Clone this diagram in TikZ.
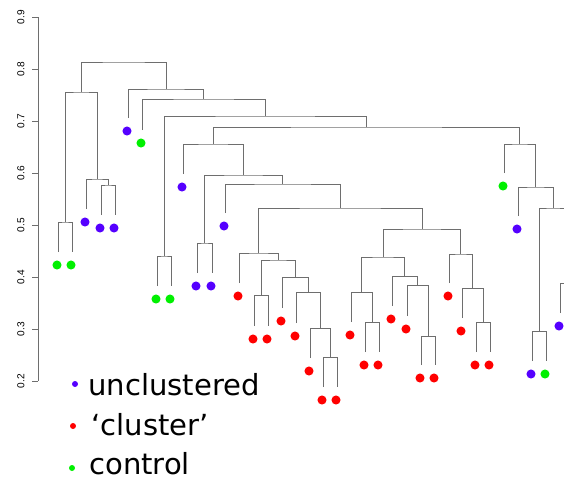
\documentclass[tikz,border=0pt]{standalone}
\usepackage{fontspec}
\setmainfont{DejaVu Sans}
\newfontfamily\axisfont{Liberation Sans}
\definecolor{ublue}{RGB}{85,0,255}
\definecolor{cred}{RGB}{255,0,0}
\definecolor{cgreen}{RGB}{0,240,0}
\definecolor{linegray}{RGB}{110,110,110}
\begin{document}
\begin{tikzpicture}[x=0.75pt,y=-0.75pt,
  branch/.style={draw=linegray,line width=0.75pt},
  leafdot/.style={circle,inner sep=0pt,minimum size=6.8pt},
  legdot/.style={circle,inner sep=0pt,minimum size=4.5pt},
  legtext/.style={anchor=base west,inner sep=0pt,font=\fontsize{21.8}{26}\selectfont},
  ticklab/.style={rotate=90,inner sep=0pt,font=\axisfont\fontsize{7.6}{8}\selectfont}]
\useasboundingbox (0,0) rectangle (564,480);
\clip (0,0) rectangle (564,480);
% axis
\coordinate (ax0) at (38,17);
\coordinate (ax1) at (38,381);
\draw[branch] (ax0) -- (ax1);
\foreach \v/\y in {0.9/17,0.8/69,0.7/121,0.6/173,0.5/225,0.4/277,0.3/329,0.2/381}{
  \coordinate (t\y) at (32,\y);
  \draw[branch] (t\y) -- (38,\y);
  \node[ticklab] (lab\y) at (21,\y) {\v};
}
% leaves
\foreach \n/\x/\y/\c in {L1/58/252/cgreen,L2/72/252/cgreen,L3/86/209/ublue,L4/101/215/ublue,L5/115/215/ublue,
  L6/128/118/ublue,L7/142/130/cgreen,L8/157/286/cgreen,L9/171/286/cgreen,L10/183/174/ublue,
  L11/197/273/ublue,L12/212/273/ublue,L13/225/213/ublue,L14/239/283/cred,L15/254/326/cred,
  L16/268/326/cred,L17/282/308/cred,L18/296/323/cred,L19/310/358/cred,L20/323/387/cred,
  L21/337/387/cred,L22/351/322/cred,L23/365/352/cred,L24/379/352/cred,L25/392/306/cred,
  L26/407/316/cred,L27/421/365/cred,L28/435/365/cred,L29/449/283/cred,L30/462/318/cred,
  L31/476/352/cred,L32/490/352/cred,L33/504/173/cgreen,L34/518/216/ublue,L35/532/361/ublue,
  L36/546/361/cgreen,L37/560/313/ublue,L38/574/313/ublue}{
  \coordinate (\n) at (\x,\y);
  \node[leafdot,fill=\c] (d\n) at (\x-1,\y+13) {};
}
% internal merge points
\foreach \n/\x/\y in {A/65/222,B/108/185,C/97/179,D/81/92,E/164/256,F/204.5/243,G/261/295,
  H/330/357,I/320/328,J/308/292,K/295/277,M/278/260,N/258.5/253,O/372/322,P/361.5/292,
  Q/428/336,R/417.5/285,S/404.75/276,T/383/257,U/483/322,V/472.5/288,W/460.75/254,
  X/422/229,Y/340/208,Z/282.5/184,AA/243.5/175,AB/213/144,AC/539/331,AD/567/283,
  AE/553/208,AF/535.5/187,AG/519.75/144,AH/366.5/127,AI/265/116,AJ/203.5/99,AK/166/89,
  root/123.5/62}{
  \coordinate (\n) at (\x,\y);
}
\foreach \a/\m/\b in {L1/A/L2,L4/B/L5,L3/C/B,A/D/C,L8/E/L9,L11/F/L12,L15/G/L16,L20/H/L21,
  L19/I/H,L18/J/I,L17/K/J,G/M/K,L14/N/M,L23/O/L24,L22/P/O,L27/Q/L28,L26/R/Q,L25/S/R,
  P/T/S,L31/U/L32,L30/V/U,L29/W/V,T/X/W,N/Y/X,L13/Z/Y,F/AA/Z,L10/AB/AA,L35/AC/L36,
  L37/AD/L38,AC/AE/AD,L34/AF/AE,L33/AG/AF,AB/AH/AG,E/AI/AH,L7/AJ/AI,L6/AK/AJ,D/root/AK}{
  \draw[branch] (\a) |- (\m) -| (\b);
}
% legend
\node[legdot,fill=ublue] (k1) at (75,384) {};
\node[legdot,fill=cred] (k2) at (73,426) {};
\node[legdot,fill=cgreen] (k3) at (72,468) {};
\node[legtext] (g1) at (88,395) {unclustered};
\node[legtext] (g2) at (91,435) {‘cluster’};
\node[legtext] (g3) at (89,474) {control};
\end{tikzpicture}
\end{document}
